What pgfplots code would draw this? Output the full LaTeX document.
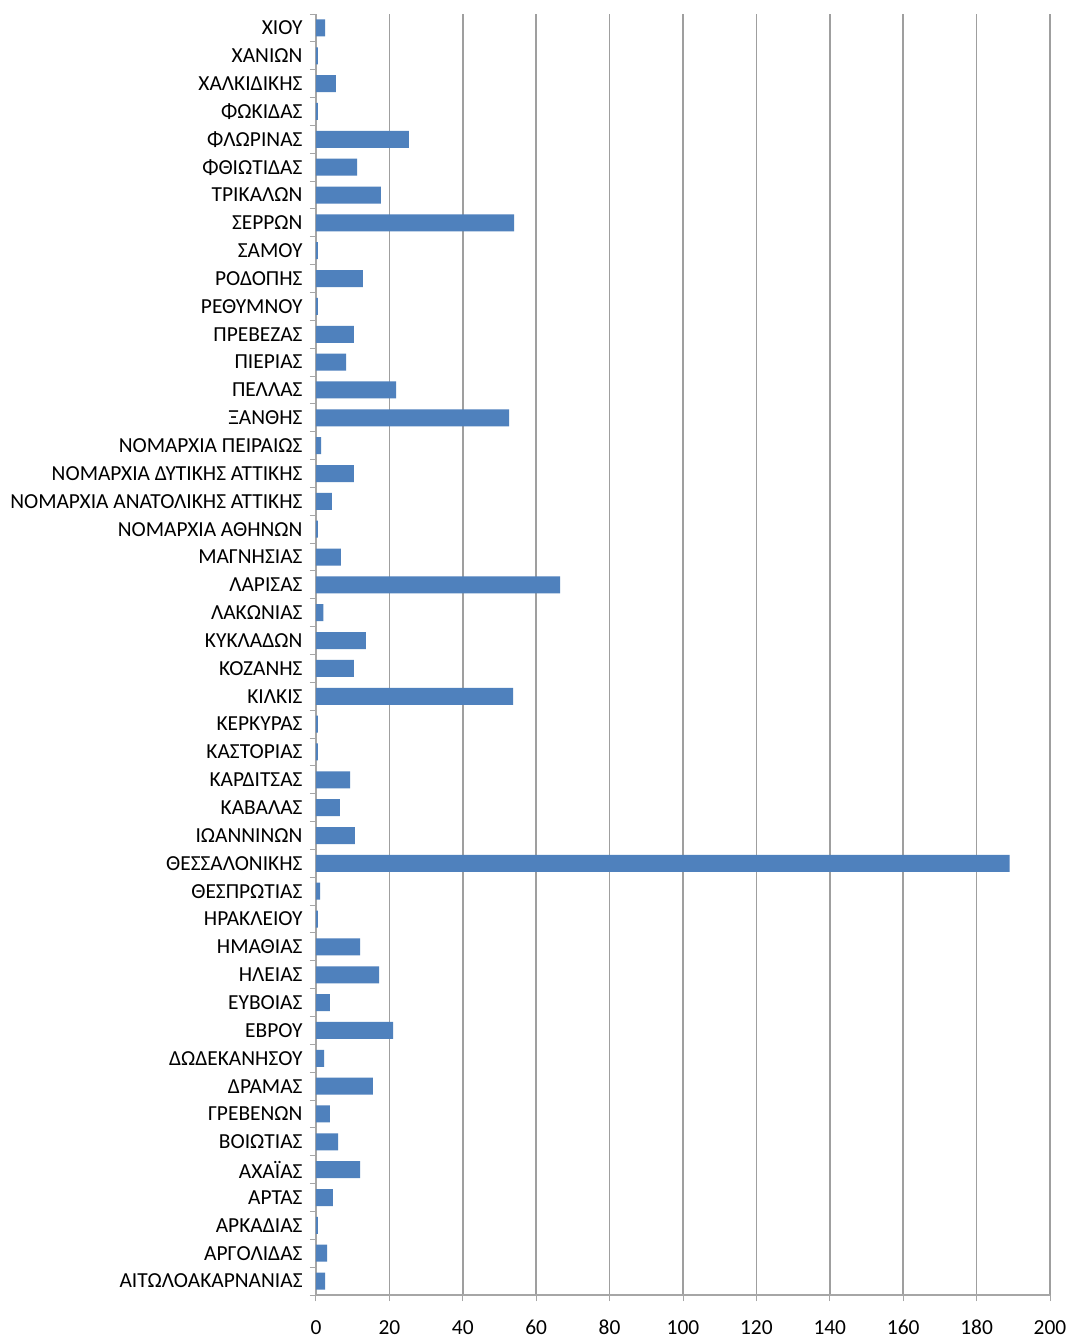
\documentclass[border=0pt]{standalone}
\usepackage{pgfplots}
\pgfplotsset{compat=1.18}
\usepackage{fontspec}
\setmainfont{Carlito}
\begin{document}
\begin{tikzpicture}[x=1bp,y=1bp]
\fill[white] (-316,-45) rectangle (752,1281+14);
\begin{axis}[
  at={(0,0)}, anchor=south west,
  scale only axis, width=734bp, height=1281bp,
  xbar, bar width=17bp,
  xmin=0, xmax=200, xtick={0,20,...,200},
  ymin=-0.5, ymax=45.5,
  ytick={0,...,45},
  yticklabels={ΑΙΤΩΛΟΑΚΑΡΝΑΝΙΑΣ,ΑΡΓΟΛΙΔΑΣ,ΑΡΚΑΔΙΑΣ,ΑΡΤΑΣ,ΑΧΑΪΑΣ,ΒΟΙΩΤΙΑΣ,ΓΡΕΒΕΝΩΝ,ΔΡΑΜΑΣ,ΔΩΔΕΚΑΝΗΣΟΥ,ΕΒΡΟΥ,ΕΥΒΟΙΑΣ,ΗΛΕΙΑΣ,ΗΜΑΘΙΑΣ,ΗΡΑΚΛΕΙΟΥ,ΘΕΣΠΡΩΤΙΑΣ,ΘΕΣΣΑΛΟΝΙΚΗΣ,ΙΩΑΝΝΙΝΩΝ,ΚΑΒΑΛΑΣ,ΚΑΡΔΙΤΣΑΣ,ΚΑΣΤΟΡΙΑΣ,ΚΕΡΚΥΡΑΣ,ΚΙΛΚΙΣ,ΚΟΖΑΝΗΣ,ΚΥΚΛΑΔΩΝ,ΛΑΚΩΝΙΑΣ,ΛΑΡΙΣΑΣ,ΜΑΓΝΗΣΙΑΣ,ΝΟΜΑΡΧΙΑ ΑΘΗΝΩΝ,ΝΟΜΑΡΧΙΑ ΑΝΑΤΟΛΙΚΗΣ ΑΤΤΙΚΗΣ,ΝΟΜΑΡΧΙΑ ΔΥΤΙΚΗΣ ΑΤΤΙΚΗΣ,ΝΟΜΑΡΧΙΑ ΠΕΙΡΑΙΩΣ,ΞΑΝΘΗΣ,ΠΕΛΛΑΣ,ΠΙΕΡΙΑΣ,ΠΡΕΒΕΖΑΣ,ΡΕΘΥΜΝΟΥ,ΡΟΔΟΠΗΣ,ΣΑΜΟΥ,ΣΕΡΡΩΝ,ΤΡΙΚΑΛΩΝ,ΦΘΙΩΤΙΔΑΣ,ΦΛΩΡΙΝΑΣ,ΦΩΚΙΔΑΣ,ΧΑΛΚΙΔΙΚΗΣ,ΧΑΝΙΩΝ,ΧΙΟΥ},
  major y tick style={draw=none},
  minor ytick={-0.5,0.5,...,45.5},
  minor y tick style={draw=gray!70, line width=1pt},
  minor tick length=6bp,
  xtick style={draw=gray!70, line width=1pt},
  major tick length=6bp,
  tick align=outside,
  xmajorgrids, grid style={gray!75, line width=1.5pt},
  axis lines*=left,
  axis line style={gray!70, line width=1.5pt},
  tick label style={font=\fontsize{21.5}{24}\selectfont},
  /pgf/number format/assume math mode=true,
  yticklabel style={xshift=-4bp},
  xticklabel style={anchor=base, yshift=-33bp},
]
\addplot[fill={rgb,255:red,79;green,129;blue,189}, draw=none] coordinates {
(2.5,0)(3,1)(0.5,2)(4.6,3)(12,4)(6,5)(3.8,6)(15.5,7)(2.2,8)(21,9)
(3.8,10)(17.2,11)(12,12)(0.5,13)(1.1,14)(189,15)(10.6,16)(6.5,17)(9.3,18)(0.5,19)
(0.5,20)(53.7,21)(10.3,22)(13.6,23)(2,24)(66.5,25)(6.8,26)(0.5,27)(4.3,28)(10.3,29)
(1.4,30)(52.6,31)(21.8,32)(8.2,33)(10.3,34)(0.5,35)(12.8,36)(0.5,37)(54,38)(17.7,39)
(11.2,40)(25.3,41)(0.5,42)(5.4,43)(0.5,44)(2.5,45)};
\end{axis}
\end{tikzpicture}
\end{document}
